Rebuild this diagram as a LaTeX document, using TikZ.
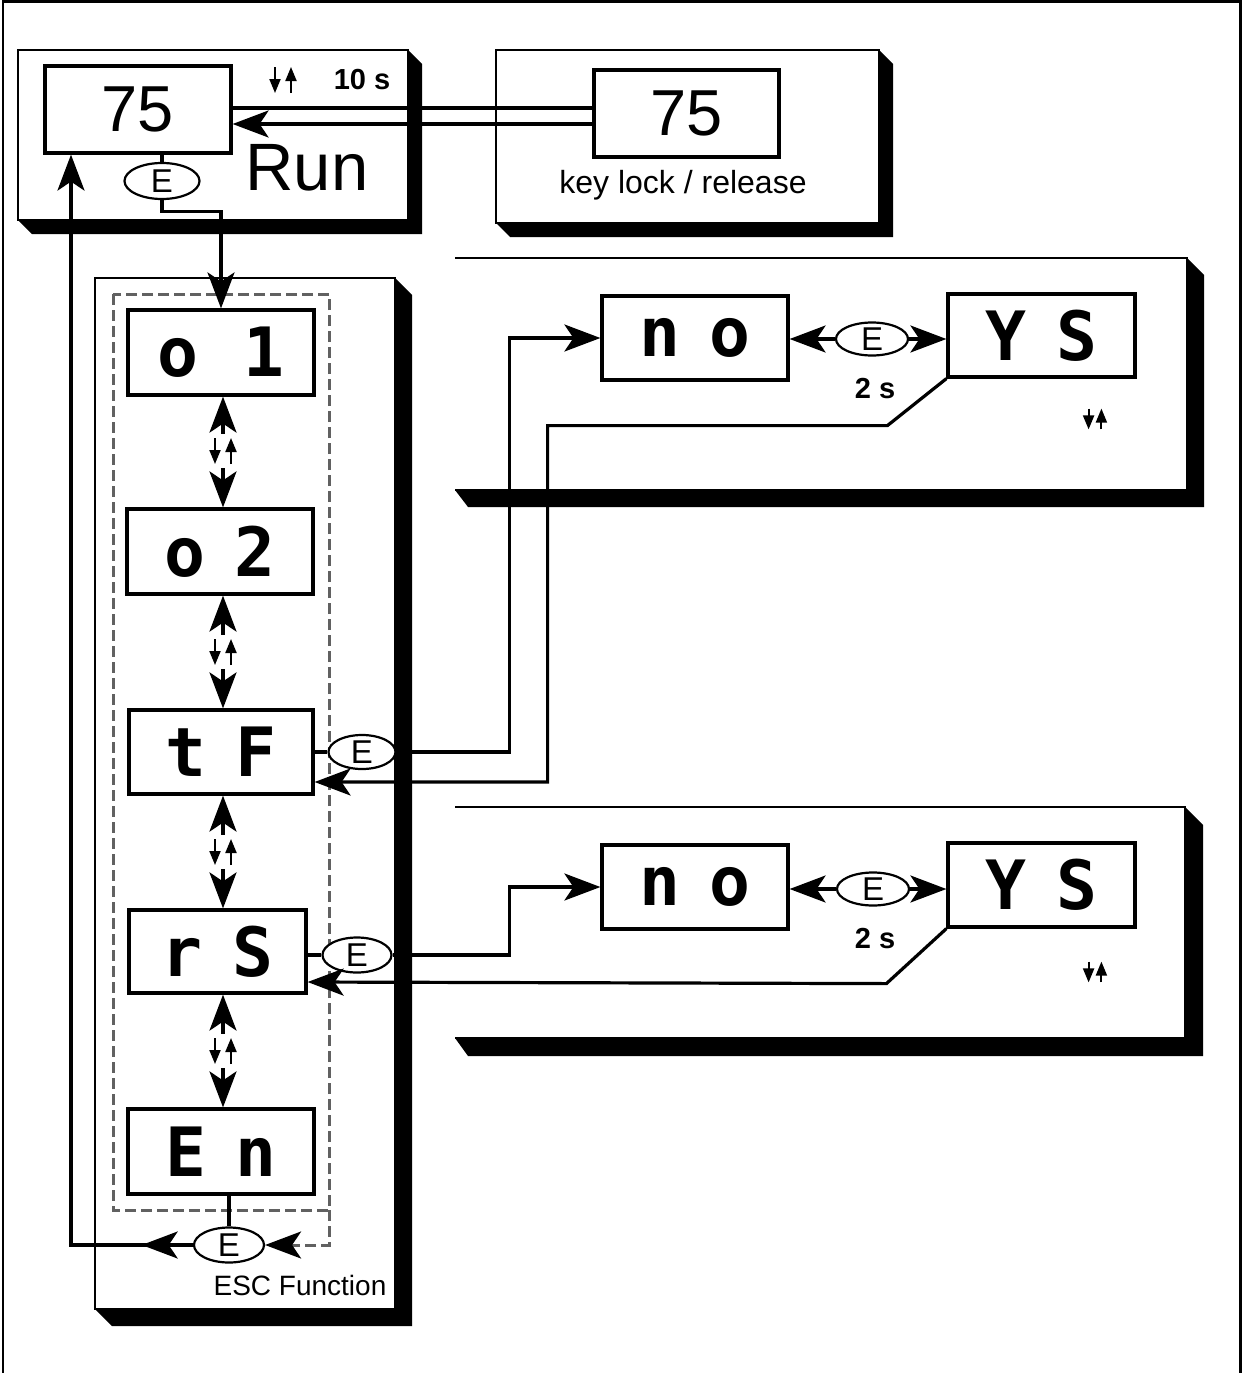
\documentclass[tikz,border=0pt]{standalone}
\usepackage{fontspec}
\setmainfont{Liberation Sans}
\newfontfamily\segfont{DejaVu Sans Mono}
\usetikzlibrary{arrows.meta,shapes.geometric,calc}
\newcommand{\segpair}[2]{#1\kern30pt #2}

\tikzset{
  bigtip/.tip={Stealth[length=36pt,width=27pt,inset=9pt]},
  panel/.style={draw,fill=white,line width=2.8pt},
  display/.style={draw,fill=white,line width=3.2pt,minimum width=186pt,minimum height=85pt,
    inner sep=0pt,font=\segfont\bfseries\fontsize{68}{68}\selectfont},
  value/.style={draw,fill=white,line width=3.2pt,minimum width=186pt,minimum height=87pt,
    inner sep=0pt,font=\fontsize{65}{65}\selectfont},
  ekey/.style={ellipse,draw,fill=white,line width=2.2pt,minimum width=72pt,minimum height=34pt,
    inner sep=0pt,font=\fontsize{33}{33}\selectfont},
  keygap/.style={minimum width=30pt,minimum height=34pt,inner sep=0pt},
  wire/.style={line width=3.2pt},
  dashbox/.style={draw=black!62,line width=3pt,dash pattern=on 11pt off 5pt},
  updown/.pic={
    \draw[line width=2pt,-{Triangle[length=14pt,width=11pt]}] (-8,-13) -- (-8,13);
    \draw[line width=2pt,-{Triangle[length=14pt,width=11pt]}] (8,13) -- (8,-13);
  },
}

\begin{document}
\begin{tikzpicture}[x=1pt,y=-1pt]
  \useasboundingbox (0,0) rectangle (1243,1373);
  % outer frame, open at the bottom
  \draw[line width=2.8pt] (3,1373) -- (3,1.5) -- (1240.5,1.5) -- (1240.5,1373);

  % panels with their shadows
  \fill (18,220) -- (32,234) -- (422,234) -- (422,64) -- (408,50) -- cycle;
  \draw[panel] (18,50) rectangle (408,220);
  \fill (496,223) -- (510,237) -- (893,237) -- (893,64) -- (879,50) -- cycle;
  \draw[panel] (496,50) rectangle (879,223);
  \fill (95,1309) -- (112,1326) -- (412,1326) -- (412,295) -- (395,278) -- cycle;
  \draw[panel] (95,278) rectangle (395,1309);
  % the two right panels are open to the left
  \fill (455,490) -- (468,507) -- (1204,507) -- (1204,275) -- (1187,258) -- cycle;
  \fill[white] (455,258) rectangle (1187,490);
  \draw[line width=2.8pt] (455,258) -- (1187,258) -- (1187,490) -- (455,490);
  \fill (455,1038) -- (468,1056) -- (1203,1056) -- (1203,825) -- (1185,807) -- cycle;
  \fill[white] (455,807) rectangle (1185,1038);
  \draw[line width=2.8pt] (455,807) -- (1185,807) -- (1185,1038) -- (455,1038);

  % menu frame
  \draw[dashbox] (113,294) rectangle (329,1210);
  \coordinate (dashEnd) at (329,1210);

  % displays
  \node[value] (run75) at (138,109.5) {75};
  \node[value,minimum width=185pt] (key75) at (686.5,113.5) {75};
  \node[display] (o1) at (221,352.5) {o\kern45pt 1};
  \node[display] (o2) at (220,551.5) {\segpair{o}{2}};
  \node[display,minimum width=184pt,minimum height=84pt] (tF) at (221,752) {\segpair{t}{F}};
  \node[display,minimum width=177pt,minimum height=83pt] (rS) at (217.5,951.5) {\segpair{r}{S}};
  \node[display] (En) at (221,1151.5) {\segpair{E}{n}};
  \node[display,minimum height=84pt] (no1) at (695,338) {\segpair{n}{o}};
  \node[display,minimum width=187pt,minimum height=83pt] (ys1) at (1041.5,335.5) {\segpair{Y}{S}};
  \node[display,minimum height=84pt] (no2) at (695,887) {\segpair{n}{o}};
  \node[display,minimum width=187pt,minimum height=84pt] (ys2) at (1041.5,885) {\segpair{Y}{S}};

  % E keys
  \node[ekey,minimum width=75pt,minimum height=36pt] (eRun) at (162,181) {E};
  \node[ekey,minimum height=33pt] (eNo1) at (872,339) {E};
  \node[ekey,minimum width=67pt] (eTF) at (362,752) {E};
  \node[ekey,minimum width=69pt,minimum height=35pt] (eRS) at (357,955) {E};
  \node[ekey,minimum height=33pt] (eNo2) at (873,889) {E};
  \node[ekey,minimum width=70pt,minimum height=35pt] (eEn) at (229,1245) {E};

  % labels
  \node[font=\fontsize{67}{67}\selectfont] (tRun) at (307,168) {Run};
  \node[font=\bfseries\fontsize{29}{29}\selectfont] (tTen) at (362,80) {10 s};
  \node[font=\fontsize{32}{32}\selectfont] (tKey) at (683,185) {key lock / release};
  \node[font=\bfseries\fontsize{29}{29}\selectfont] (tTwoA) at (875,389) {2 s};
  \node[font=\bfseries\fontsize{29}{29}\selectfont] (tTwoB) at (875,939) {2 s};
  \node[font=\fontsize{28}{28}\selectfont] (tEsc) at (300,1285) {ESC Function};

  % up/down key marks
  \pic at (283,80) {updown};
  \pic[scale=0.8] at (1095,419) {updown};
  \pic[scale=0.8] at (1095,972) {updown};
  \node[keygap] (k1) at (223,451) {};
  \node[keygap] (k2) at (223,652) {};
  \node[keygap] (k3) at (223,852) {};
  \node[keygap] (k4) at (223,1051) {};

  % Run <-> key lock
  \coordinate (runA) at ([yshift=1.5pt]run75.east);
  \coordinate (runB) at ([yshift=-14.5pt]run75.east);
  \draw[wire] (runA) -- (runA -| key75.west);
  \draw[wire,-{bigtip}] (runB -| key75.west) -- (runB);

  % Run -> menu
  \draw[wire] (eRun.north |- run75.south) -- (eRun.north);
  \draw[wire,-{bigtip}] (eRun.south) -- ++(0,11) -| (o1.north);

  % scrolling through the menu
  \foreach \a/\b/\k in {o1/o2/k1,o2/tF/k2,tF/rS/k3,rS/En/k4}{
    \pic at (\k) {updown};
    \draw[wire,-{bigtip}] (\k.north) -- (\k.north |- \a.south);
    \draw[wire,-{bigtip}] (\k.south) -- (\k.south |- \b.north);
  }

  % tF: no / YS
  \coordinate (tFin) at ([yshift=-30pt]tF.east);
  \draw[wire] (tF.east) -- (eTF.west);
  \draw[wire,-{bigtip}] (eTF.east) -| ([xshift=-91pt]no1.west) -- (no1.west);
  \draw[wire,-{bigtip}] (eNo1.west) -- (eNo1.west -| no1.east);
  \draw[wire,-{bigtip}] (eNo1.east) -- (eNo1.east -| ys1.west);
  \draw[wire,-{bigtip}] (ys1.south west) -- ++(-59,47) -| ([xshift=233pt]tFin) -- (tFin);

  % rS: no / YS
  \coordinate (rSin) at ([yshift=-30.5pt]rS.east);
  \draw[wire] (eRS.west -| rS.east) -- (eRS.west);
  \draw[wire,-{bigtip}] (eRS.east) -| ([xshift=-91pt]no2.west) -- (no2.west);
  \draw[wire,-{bigtip}] (eNo2.west) -- (eNo2.west -| no2.east);
  \draw[wire,-{bigtip}] (eNo2.east) -- (eNo2.east -| ys2.west);
  \draw[wire,-{bigtip}] (ys2.south west) -- ++(-60,55) -- (rSin);

  % ESC back to Run
  \coordinate (loop) at (71,1245);
  \draw[wire] (eEn.north |- En.south) -- (eEn.north);
  \draw[wire,-{bigtip}] (eEn.west) -- ($(eEn.west)!0.42!(loop)$);
  \draw[wire,-{bigtip}] (eEn.west) -- (loop) -- (loop |- run75.south);
  \draw[dashbox,-{bigtip[color=black]}] (dashEnd) -- (dashEnd |- eEn.east) -- (eEn.east);
\end{tikzpicture}
\end{document}
